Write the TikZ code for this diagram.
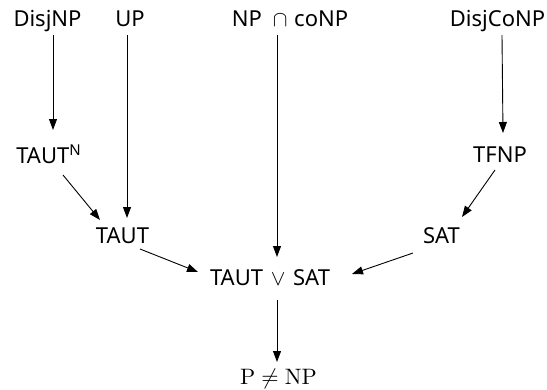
\RequirePackage{fix-cm}
\documentclass[tikz,border=0pt]{standalone}
\usepackage{graphicx}
\usepackage[no-math]{fontspec}
\setmainfont{Noto Sans}
\usetikzlibrary{arrows.meta}
\begin{document}
\begin{tikzpicture}[x=1pt,y=-1pt,
  lbl/.style={anchor=base,inner sep=0pt,font=\fontsize{22}{26}\selectfont},
  arr/.style={-{Triangle[length=11pt,width=8pt]},line width=0.9pt}]
\useasboundingbox (0,0) rectangle (547,389);
\node[lbl] (DisjNP) at (47.5,26) {DisjNP};
\node[lbl] (UP) at (130,26) {UP};
\node[lbl] (NPcoNP) at (290,26) {NP\hspace{0.5em}$\cap$\hspace{0.3em}coNP};
\node[lbl] (DisjCoNP) at (497.5,26) {DisjCoNP};
\node[lbl] (TAUTN) at (48.5,163) {TAUT\raisebox{0.36em}{\fontsize{15}{15}\selectfont N}};
\node[lbl] (TFNP) at (500,162) {TFNP};
\node[lbl] (TAUT) at (122.5,243) {TAUT};
\node[lbl] (SAT) at (441.5,243) {SAT};
\node[lbl] (TvS) at (270,285) {TAUT\hspace{0.35em}$\vee$\hspace{0.35em}SAT};
\node[lbl] (PNP) at (278.5,384) {\scalebox{2.23}{\fontsize{10}{12}\selectfont$\mathrm{P}\neq\mathrm{NP}$}};
\draw[arr] ([shift={(5.5,9)}]DisjNP.base) -- ([shift={(4.5,-33)}]TAUTN.base);
\draw[arr] ([shift={(-3,9)}]UP.base) -- ([shift={(4.5,-25)}]TAUT.base);
\draw[arr] ([shift={(-13,9)}]NPcoNP.base) -- ([shift={(7,-28)}]TvS.base);
\draw[arr] ([shift={(4.5,9)}]DisjCoNP.base) -- ([shift={(3,-29)}]TFNP.base);
\draw[arr] ([shift={(14.5,12)}]TAUTN.base) -- ([shift={(-22.5,-23)}]TAUT.base);
\draw[arr] ([shift={(-5,8)}]TFNP.base) -- ([shift={(20.5,-26)}]SAT.base);
\draw[arr] ([shift={(17.5,6)}]TAUT.base) -- ([shift={(-72,-13)}]TvS.base);
\draw[arr] ([shift={(-28.5,10)}]SAT.base) -- ([shift={(82,-11)}]TvS.base);
\draw[arr] ([shift={(7,15)}]TvS.base) -- ([shift={(-1.5,-22)}]PNP.base);
\end{tikzpicture}
\end{document}
